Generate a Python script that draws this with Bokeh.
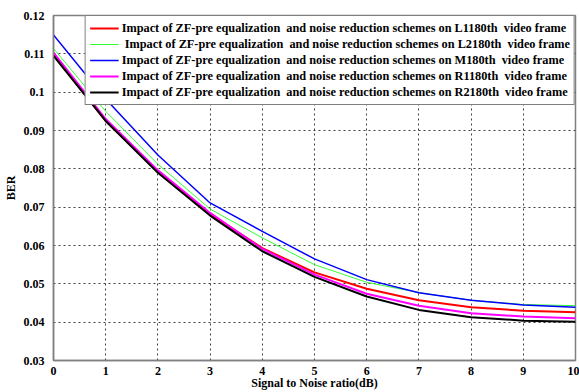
from bokeh.plotting import figure
from bokeh.embed import file_html
from bokeh.resources import INLINE
from bokeh.models import FixedTicker, CustomJSTickFormatter, Legend, LegendItem, Range1d

snr = [0, 1, 2, 3, 4, 5, 6, 7, 8, 9, 10]
ber_l1180 = [0.1097, 0.0925, 0.0793, 0.0682, 0.0593, 0.0530, 0.0487, 0.0457, 0.0439, 0.0430, 0.0426]
ber_l2180 = [0.1114, 0.0950, 0.0812, 0.0695, 0.0620, 0.0550, 0.0504, 0.0477, 0.0457, 0.0446, 0.0443]
ber_m180 = [0.1149, 0.0982, 0.0836, 0.0711, 0.0637, 0.0565, 0.0511, 0.0477, 0.0457, 0.0445, 0.0439]
ber_r1180 = [0.1103, 0.0930, 0.0796, 0.0685, 0.0591, 0.0524, 0.0474, 0.0443, 0.0423, 0.0415, 0.0410]
ber_r2180 = [0.1095, 0.0925, 0.0790, 0.0678, 0.0585, 0.0518, 0.0467, 0.0432, 0.0413, 0.0404, 0.0401]

labels = [
    "Impact of ZF-pre equalization  and noise reduction schemes on L1180th  video frame",
    " Impact of ZF-pre equalization  and noise reduction schemes on L2180th  video frame",
    "Impact of ZF-pre equalization  and noise reduction schemes on M180th  video frame",
    "Impact of ZF-pre equalization  and noise reduction schemes on R1180th  video frame",
    "Impact of ZF-pre equalization  and noise reduction schemes on R2180th  video frame",
]
x_ticks = [0, 1, 2, 3, 4, 5, 6, 7, 8, 9, 10]
y_ticks = [0.03, 0.04, 0.05, 0.06, 0.07, 0.08, 0.09, 0.10, 0.11, 0.12]

FONT = "Liberation Serif"

p = figure(width=579, height=392, output_backend="svg", toolbar_location=None,
           x_range=Range1d(0, 10), y_range=Range1d(0.03, 0.12),
           min_border_left=53, min_border_right=4, min_border_top=15, min_border_bottom=31)
p.background_fill_color = "white"
p.border_fill_color = "white"
p.outline_line_color = "#808080"
p.outline_line_width = 1.5

series = [
    (ber_l1180, "#ff0000", 2),
    (ber_l2180, "#33ff33", 1),
    (ber_m180, "#0000ff", 1.5),
    (ber_r1180, "#ff00ff", 2),
    (ber_r2180, "#000000", 2),
]
items = []
for (ys, col, lw), lab in zip(series, labels):
    r = p.line(snr, ys, line_color=col, line_width=lw)
    items.append(LegendItem(label=lab, renderers=[r]))

for ax in (p.xaxis[0], p.yaxis[0]):
    ax.axis_line_color = "#808080"
    ax.axis_line_width = 1.5
    ax.major_tick_line_color = None
    ax.minor_tick_line_color = None
    ax.major_label_text_font = FONT
    ax.major_label_text_font_style = "bold"
    ax.major_label_text_font_size = "12px"
    ax.major_label_text_color = "black"
    ax.axis_label_text_font = FONT
    ax.axis_label_text_font_style = "bold"
    ax.axis_label_text_font_size = "12px"
    ax.axis_label_text_color = "black"

p.xaxis.ticker = FixedTicker(ticks=x_ticks)
p.yaxis.ticker = FixedTicker(ticks=y_ticks)
p.yaxis.formatter = CustomJSTickFormatter(code="return String(Math.round(tick*100)/100);")
p.xaxis.major_label_standoff = 0
p.yaxis.major_label_standoff = 3
p.xaxis.axis_label = "Signal to Noise ratio(dB)"
p.yaxis.axis_label = "BER"
p.xaxis.axis_label_standoff = -2
p.yaxis.axis_label_standoff = 3

for g in (p.xgrid[0], p.ygrid[0]):
    g.grid_line_color = "#404040"
    g.grid_line_dash = "2 3"
    g.grid_line_width = 1

legend = Legend(items=items, location="top_right", margin=0, padding=4, spacing=0,
                label_height=16, glyph_height=16, glyph_width=29, label_standoff=3,
                label_text_font=FONT, label_text_font_style="bold",
                label_text_font_size="12.3px", label_text_color="black",
                border_line_color="black", border_line_width=1,
                background_fill_color="white", background_fill_alpha=1)
p.add_layout(legend)

open("out.html", "w").write(file_html(p, INLINE))
